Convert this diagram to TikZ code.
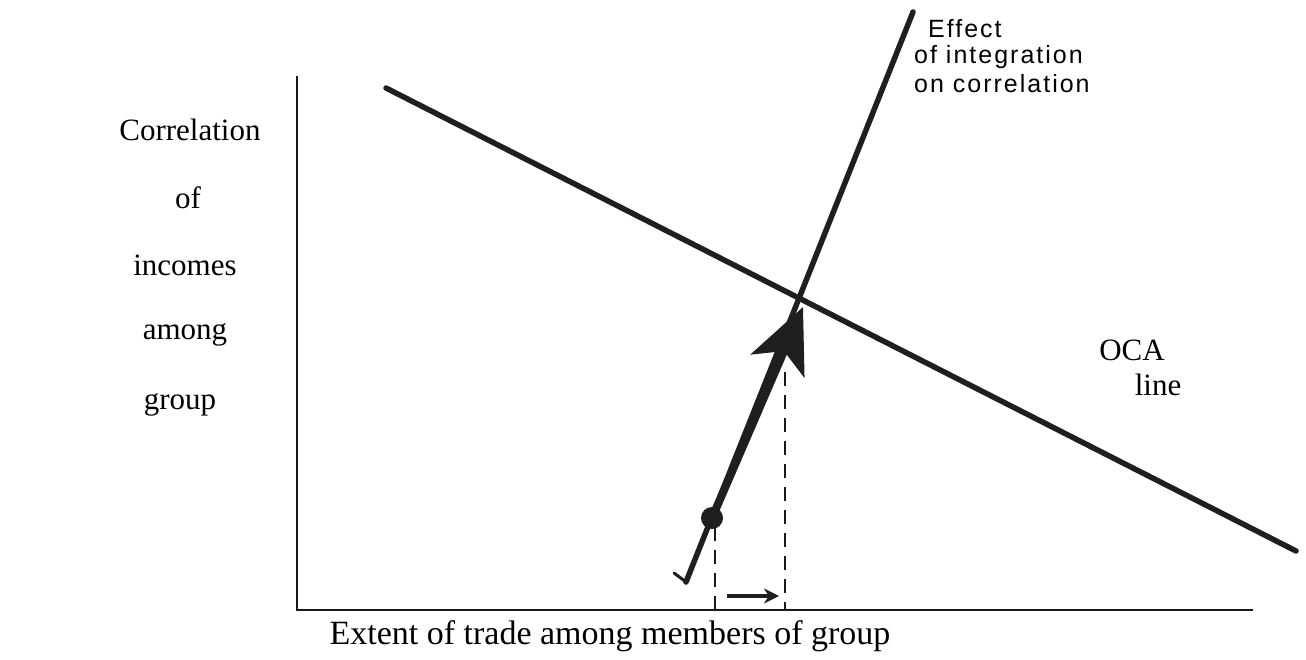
\documentclass[tikz,border=0pt]{standalone}
\usepackage{fontspec}
\setmainfont{Liberation Serif}
\newfontfamily\handfont[LetterSpace=8]{Liberation Sans}
\usetikzlibrary{arrows.meta}
\begin{document}
\begin{tikzpicture}[x=1pt,y=-1pt,
  axis/.style={line width=2.5pt, black!90},
  ink/.style={line width=5.5pt, black!88, line cap=round},
  lbl/.style={font=\fontsize{31}{31}\selectfont, inner sep=0pt},
  hand/.style={font=\handfont\fontsize{25}{25}\selectfont, inner sep=0pt, anchor=base west},
  dashline/.style={line width=2.2pt, black!90, dash pattern=on 14pt off 9pt}]
\useasboundingbox (0,0) rectangle (1306,660);
% axes
\coordinate (yt) at (297,76);
\coordinate (o) at (297,610);
\coordinate (xr) at (1253,610);
\draw[axis] (yt) -- (o) -- (xr);
% OCA line
\coordinate (ocaA) at (386,88);
\coordinate (ocaB) at (1296,551);
\draw[ink] (ocaA) -- (ocaB);
% effect of integration line
\coordinate (tail) at (686,582);
\coordinate (top) at (913,12);
\coordinate (hook) at (674,573);
\draw[ink] (tail) -- (top);
\draw[ink, line width=3pt] (tail) -- (hook);
% thick arrow from dot to intersection
\coordinate (dot) at (712,518);
\coordinate (tip) at (803,307);
\draw[line width=8pt, black!88, -{Stealth[length=64pt,width=58pt,inset=16pt]}] (dot) -- (tip);
\fill[black!88] (dot) circle (11pt);
% dashed guides
\coordinate (d1t) at (715,527);
\coordinate (d1b) at (715,612);
\coordinate (d2t) at (785,372);
\coordinate (d2b) at (785,610);
\draw[dashline] (d1t) -- (d1b);
\draw[dashline] (d2t) -- (d2b);
\coordinate (sa) at (727,596);
\coordinate (sb) at (779,596);
\draw[line width=3.2pt, black!88, -{Stealth[length=15pt,width=15pt]}] (sa) -- (sb);
% labels
\node[lbl] (l1) at (190,130) {Correlation};
\node[lbl] (l2) at (188,198) {of};
\node[lbl] (l3) at (185,265) {incomes};
\node[lbl] (l4) at (185,335) {among};
\node[lbl] (l5) at (180,405) {group};
\node[lbl] (oca) at (1132,350) {OCA};
\node[lbl] (line) at (1158,385) {line};
\node[font=\fontsize{34}{34}\selectfont, inner sep=0pt, anchor=base] (xl) at (610,644) {Extent of trade among members of group};
\node[hand] (h1) at (928,38) {Effect};
\node[hand] (h2) at (914,64) {of integration};
\node[hand] (h3) at (914,93) {on correlation};
\end{tikzpicture}
\end{document}
